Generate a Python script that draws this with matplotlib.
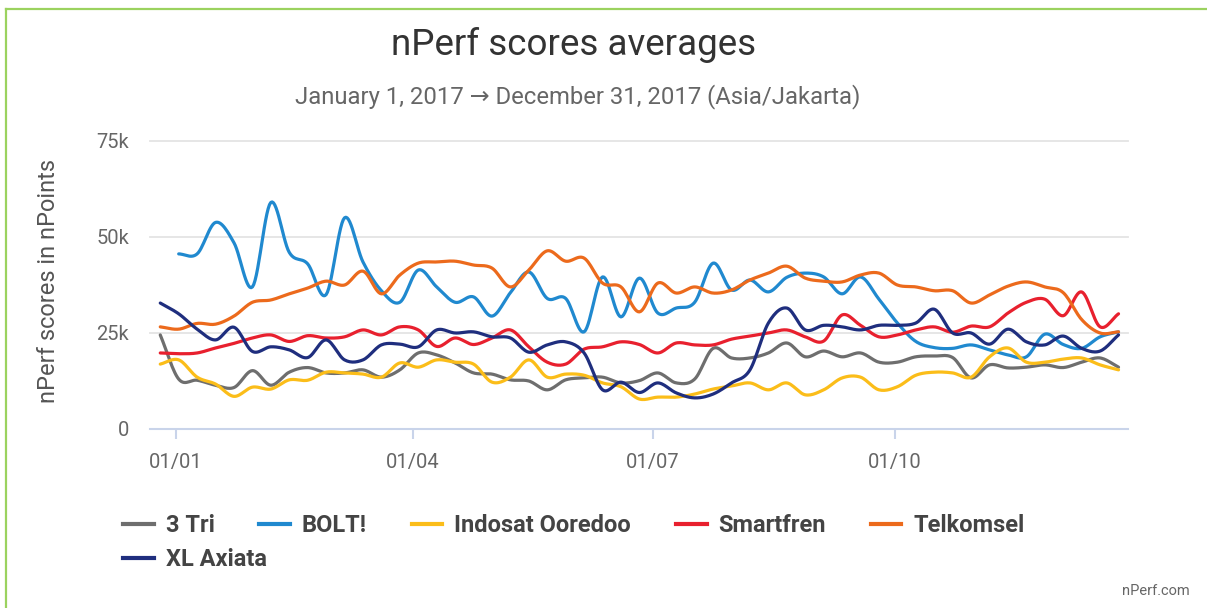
import numpy as np
import pandas as pd
import matplotlib
matplotlib.use("Agg")
import matplotlib.pyplot as plt
import matplotlib.dates as mdates
from matplotlib.lines import Line2D

# ---------------- data (weekly averages, nPoints) ----------------
weeks = pd.date_range("2016-12-26", periods=53, freq="7D")

series_names = ["3 Tri", "BOLT!", "Indosat Ooredoo", "Smartfren", "Telkomsel", "XL Axiata"]
series_colors = ["#6e6e6e", "#2089cf", "#fbbd19", "#e8202e", "#ec6a1c", "#1f2e7e"]

tri = [24500, 13000, 12700, 11400, 10800, 15200, 11400, 14800, 16000, 14600, 14600, 15400, 13500,
       15400, 19800, 19300, 17200, 14600, 14300, 12800, 12500, 10200, 12800, 13300, 13500, 12000,
       12600, 14600, 12000, 13000, 21000, 18500, 18500, 19800, 22400, 18800, 20300, 18800, 19800,
       17400, 17400, 18800, 19000, 18600, 13300, 16700, 15900, 16100, 16700, 16000, 17400, 18500, 16100]
bolt = [np.nan, 45600, 45600, 53800, 48500, 37000, 59000, 46000, 43000, 35000, 55000, 43500, 36000,
        33000, 41400, 37000, 33000, 34400, 29400, 35500, 40900, 34000, 34000, 25300, 39600, 29200,
        39300, 30200, 31500, 33000, 43200, 36200, 38800, 35700, 39500, 40600, 39600, 35200, 39600,
        33800, 27600, 22800, 21200, 21000, 21900, 20600, 19300, 18800, 24700, 22000, 21000, 24000, 25300]
indosat = [16900, 18000, 13500, 11700, 8500, 10900, 10400, 12800, 12700, 14800, 14600, 14300, 13500,
           17200, 16100, 18000, 17400, 16900, 12200, 13500, 18000, 13500, 14300, 14000, 12000, 11000,
           7800, 8300, 8300, 9100, 10400, 11200, 12000, 10200, 12000, 8900, 10200, 13300, 13500,
           10200, 11000, 14000, 14800, 14600, 13500, 18800, 21100, 17400, 17400, 18200, 18500, 16700, 15400]
smartfren = [19800, 19600, 19800, 21100, 22300, 23700, 24500, 22800, 24300, 23700, 24000, 25800, 24500,
             26600, 25800, 21500, 23700, 22000, 23700, 25800, 21400, 17400, 16900, 20800, 21400, 22700,
             22000, 19800, 22400, 21900, 21900, 23400, 24200, 25000, 25800, 24000, 22900, 29700, 27000,
             24000, 24500, 25800, 26600, 25200, 26800, 26600, 30200, 33000, 33800, 29500, 35700, 26600, 30000]
telkomsel = [26600, 26000, 27500, 27300, 29400, 33000, 33600, 35200, 36700, 38500, 37500, 41100, 35200,
             40100, 43200, 43500, 43700, 42700, 41900, 37000, 41400, 46400, 43700, 44500, 38000, 37000,
             30500, 38000, 35400, 37000, 35400, 36200, 38800, 40600, 42400, 39300, 38500, 38300, 40100,
             40600, 37500, 37000, 36000, 36000, 32800, 34900, 37200, 38300, 37000, 35500, 28500, 25000, 25300]
xl = [32800, 30000, 26000, 23200, 26500, 20200, 21400, 20600, 18600, 23200, 18000, 18000, 21900,
      22100, 21400, 25800, 25000, 25300, 24000, 23700, 20000, 21900, 22700, 19800, 10200, 12200,
      9500, 12000, 9400, 8100, 9100, 12000, 15400, 27600, 31500, 25800, 27000, 26600, 25800,
      27000, 27000, 27600, 31200, 25000, 25000, 22100, 26000, 22700, 21900, 24200, 21000, 20300, 24500]
series_values = [tri, bolt, indosat, smartfren, telkomsel, xl]

xtick_dates = ["2017-01-01", "2017-04-01", "2017-07-01", "2017-10-01"]
xtick_labels = ["01/01", "01/04", "01/07", "01/10"]
ytick_values = [0, 25000, 50000, 75000]
ytick_labels = ["0", "25k", "50k", "75k"]


def smooth(x, y, steps=14):
    """Catmull-Rom rendering of a polyline (display smoothing only)."""
    x = np.asarray(x, float)
    y = np.asarray(y, float)
    m = ~np.isnan(y)
    x, y = x[m], y[m]
    n = len(x)
    mx = np.empty(n)
    my = np.empty(n)
    mx[1:-1] = (x[2:] - x[:-2]) / 2
    my[1:-1] = (y[2:] - y[:-2]) / 2
    mx[0], my[0] = x[1] - x[0], y[1] - y[0]
    mx[-1], my[-1] = x[-1] - x[-2], y[-1] - y[-2]
    t = np.linspace(0, 1, steps, endpoint=False)
    h00 = 2 * t**3 - 3 * t**2 + 1
    h10 = t**3 - 2 * t**2 + t
    h01 = -2 * t**3 + 3 * t**2
    h11 = t**3 - t**2
    xs, ys = [], []
    for i in range(n - 1):
        xs.append(h00 * x[i] + h10 * mx[i] + h01 * x[i + 1] + h11 * mx[i + 1])
        ys.append(h00 * y[i] + h10 * my[i] + h01 * y[i + 1] + h11 * my[i + 1])
    xs.append([x[-1]])
    ys.append([y[-1]])
    return np.concatenate(xs), np.concatenate(ys)


FONT = ["Roboto", "DejaVu Sans"]
plt.rcParams["font.family"] = FONT

W, H = 1207, 608
fig = plt.figure(figsize=(W / 100, H / 100), dpi=100)
fig.patch.set_facecolor("white")

# green frame (left & top)
fig.add_artist(Line2D([6 / W, 6 / W], [0, 1 - 9 / H], color="#9bd25f", lw=1.6, transform=fig.transFigure))
fig.add_artist(Line2D([6 / W, 1], [1 - 9 / H, 1 - 9 / H], color="#9bd25f", lw=1.6, transform=fig.transFigure))

ax = fig.add_axes([150 / W, 1 - 429 / H, 978 / W, 288 / H])
xnum = mdates.date2num(weeks)
for vals, col in zip(series_values, series_colors):
    sx, sy = smooth(xnum, vals)
    ax.plot(sx, sy, color=col, lw=2.3, solid_capstyle="round", zorder=3)

jan1 = mdates.date2num(pd.Timestamp("2017-01-01"))
ax.set_xlim(jan1 - 9.9, jan1 + 361.6)
ax.set_ylim(0, 75000)

for s in ["top", "right", "left"]:
    ax.spines[s].set_visible(False)
ax.spines["bottom"].set_color("#c9d4ea")
ax.spines["bottom"].set_linewidth(1.5)

ax.set_yticks(ytick_values)
ax.set_yticklabels(ytick_labels)
ax.set_xticks(mdates.date2num(pd.to_datetime(xtick_dates)))
ax.set_xticklabels(xtick_labels)
ax.tick_params(axis="y", length=0, pad=15, labelsize=14.5, labelcolor="#666666")
ax.tick_params(axis="x", length=7, width=1.5, color="#c9d4ea", pad=10, labelsize=14.5, labelcolor="#666666")
ax.yaxis.grid(True, color="#e4e4e4", lw=1.3)
ax.set_axisbelow(True)
for gl in ax.get_ygridlines():
    gl.set_clip_on(False)

ax.set_ylabel("nPerf scores in nPoints", fontsize=17, color="#555555")
ax.yaxis.set_label_coords(-90 / 978, 0.515)

fig.text(574 / W, 1 - 45 / H, "nPerf scores averages", ha="center", va="center",
         fontsize=26.5, color="#333333")
fig.text(578 / W, 1 - 97 / H, "January 1, 2017 \u2192 December 31, 2017 (Asia/Jakarta)",
         ha="center", va="center", fontsize=17.2, color="#666666", family=FONT)
fig.text(1190 / W, 1 - 591 / H, "nPerf.com", ha="right", va="center", fontsize=10.5, color="#666666")

handles = [Line2D([], [], color=c, lw=3) for c in series_colors]
legkw = dict(frameon=False, prop=dict(family=FONT, weight="bold", size=17), labelcolor="#444444",
             handlelength=1.3, handletextpad=0.5, columnspacing=1.9, borderaxespad=0, borderpad=0)
fig.legend(handles[:5], series_names[:5], loc="center left", bbox_to_anchor=(123 / W, 1 - 526 / H),
           ncol=5, **legkw)
fig.legend(handles[5:], series_names[5:], loc="center left", bbox_to_anchor=(123 / W, 1 - 560 / H),
           ncol=1, **legkw)

fig.savefig("out.png", dpi=100, facecolor="white")
